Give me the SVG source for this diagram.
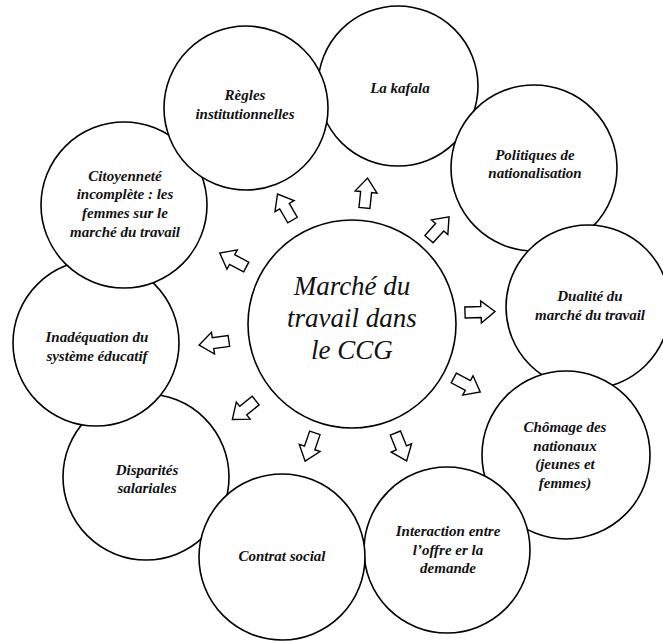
<svg xmlns="http://www.w3.org/2000/svg" width="663" height="642" viewBox="0 0 663 642">
<defs>
<style>
.c{fill:#fff;stroke:#000;stroke-width:1.6}
.t{font-family:"Liberation Serif","Times New Roman",serif;font-style:italic;font-weight:bold;font-size:15px;fill:#111;text-anchor:middle}
.m{font-family:"Liberation Serif","Times New Roman",serif;font-style:italic;font-size:27px;fill:#111;text-anchor:middle}
.a{fill:#fff;stroke:#000;stroke-width:1.4;stroke-linejoin:miter}
</style>
<path id="arr" d="M-15,-5.5 L1,-5.5 L1,-11 L15,0 L1,11 L1,5.5 L-15,5.5 Z"/>
</defs>
<rect width="663" height="642" fill="#fff"/>
<g id="n-disparites"><circle class="c" cx="146" cy="477" r="83"/><text class="t" x="147" y="475">Disparités</text><text class="t" x="147" y="493">salariales</text></g>
<g id="n-inadequation"><circle class="c" cx="96" cy="343" r="83"/><text class="t" x="97" y="342">Inadéquation du</text><text class="t" x="97" y="361">système éducatif</text></g>
<g id="n-citoyennete"><circle class="c" cx="124" cy="205" r="83"/><text class="t" x="125" y="181">Citoyenneté</text><text class="t" x="125" y="199">incomplète : les</text><text class="t" x="125" y="218">femmes sur le</text><text class="t" x="125" y="237">marché du travail</text></g>
<g id="n-kafala"><circle class="c" cx="398" cy="86" r="80"/><text class="t" x="400" y="93">La kafala</text></g>
<g id="n-regles"><circle class="c" cx="246" cy="108" r="82"/><text class="t" x="245" y="100">Règles</text><text class="t" x="245" y="119">institutionnelles</text></g>
<g id="n-politiques"><circle class="c" cx="534" cy="168" r="83"/><text class="t" x="535" y="160">Politiques de</text><text class="t" x="535" y="178">nationalisation</text></g>
<g id="n-dualite"><circle class="c" cx="588" cy="307" r="82"/><text class="t" x="590" y="301">Dualité du</text><text class="t" x="590" y="320">marché du travail</text></g>
<g id="n-chomage"><circle class="c" cx="566" cy="455" r="84"/><text class="t" x="565" y="432">Chômage des</text><text class="t" x="565" y="451">nationaux</text><text class="t" x="565" y="469">(jeunes et</text><text class="t" x="565" y="488">femmes)</text></g>
<g id="n-interaction"><circle class="c" cx="447" cy="550" r="83"/><text class="t" x="448" y="536">Interaction entre</text><text class="t" x="448" y="555">l’offre er la</text><text class="t" x="448" y="573">demande</text></g>
<g id="n-contrat"><circle class="c" cx="282" cy="557" r="83"/><text class="t" x="282" y="561">Contrat social</text></g>
<g id="n-center"><circle class="c" cx="352" cy="324" r="104"/><text class="m" x="352" y="295">Marché du</text><text class="m" x="352" y="327">travail dans</text><text class="m" x="352" y="359">le CCG</text></g>
<g id="connectors">
<use href="#arr" class="a" transform="translate(285,207) rotate(-120)"/>
<use href="#arr" class="a" transform="translate(366,193) rotate(-84)"/>
<use href="#arr" class="a" transform="translate(439,228) rotate(-48)"/>
<use href="#arr" class="a" transform="translate(480,312) rotate(-2)"/>
<use href="#arr" class="a" transform="translate(467,385) rotate(28)"/>
<use href="#arr" class="a" transform="translate(401,447) rotate(68)"/>
<use href="#arr" class="a" transform="translate(310,447) rotate(109)"/>
<use href="#arr" class="a" transform="translate(244,410) rotate(141)"/>
<use href="#arr" class="a" transform="translate(214,343) rotate(172)"/>
<use href="#arr" class="a" transform="translate(233,260) rotate(-152)"/>
</g>
</svg>
